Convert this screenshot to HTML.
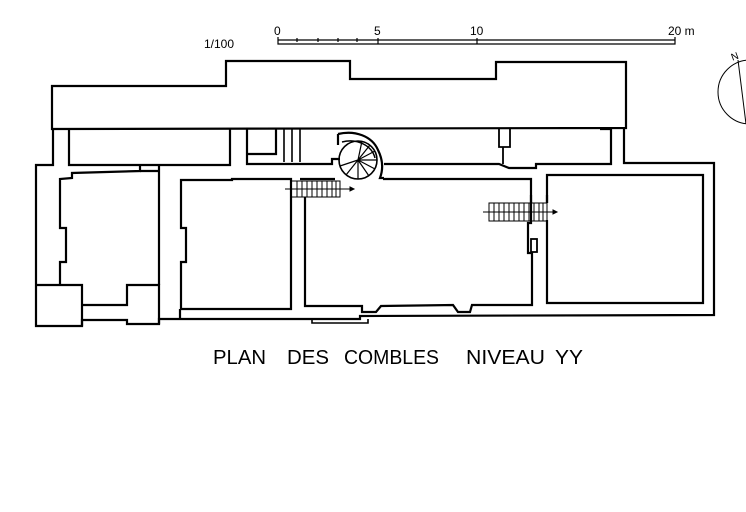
<!DOCTYPE html>
<html><head><meta charset="utf-8"><style>
html,body{margin:0;padding:0;background:#fff;width:746px;height:512px;overflow:hidden}
svg{display:block}
text{font-family:"Liberation Sans",sans-serif;fill:#000}
</style></head><body>
<svg width="746" height="512" viewBox="0 0 746 512" xmlns="http://www.w3.org/2000/svg">
<g fill="none" stroke="#000" stroke-width="2.2" stroke-linejoin="miter">
<path d="M52,129 L52,86 L226,86 L226,61 L350,61 L350,79 L496,79 L496,62 L626,62 L626,128 Z" fill="#fff"/>
<path d="M53,129 L53,165 L36,165 L36,326 L82,326 L82,320 L127,320 L127,324 L159,324 L159,319 L360,319 L360,316 L714,315 L714,163 L624,163 L624,129"/>
<path d="M69,129 L69,165 L230,165 L230,129"/>
<path d="M247,129 L247,164 L300,164 L332,164 L332,159 L340,159"/>
<path d="M247,154 L276,154 L276,129"/>
<path d="M284,129 L284,162 M292,129 L292,162 M300,129 L300,162" stroke-width="1.6"/>
<path d="M338,134 L338,145 M338,134 C355,130 372,136 378,150 C383,160 383,170 380,178 L384,178" />
<path d="M342,142 C358,138 372,146 375,158" stroke-width="1.5"/>
<circle cx="358" cy="160" r="19" stroke-width="1.6"/>
<g stroke-width="1.2">
<line x1="358" y1="160" x2="377" y2="160"/><line x1="358" y1="160" x2="375" y2="151"/>
<line x1="358" y1="160" x2="370" y2="145"/><line x1="358" y1="160" x2="362" y2="141"/>
<line x1="358" y1="160" x2="375" y2="169"/><line x1="358" y1="160" x2="369" y2="176"/>
<line x1="358" y1="160" x2="358" y2="179"/><line x1="358" y1="160" x2="346" y2="175"/>
<line x1="358" y1="160" x2="340" y2="166"/>
</g>
<path d="M384,164 L499,164 L509,168 L536,168 L536,164 L611,164 L611,129 L600,129"/>
<path d="M499,129 L499,147 L510,147 L510,129 M503,147 L503,164" stroke-width="1.8"/>
<path d="M140,165 L140,171 L72,173 L72,178 L60,179 L60,228 L66,228 L66,262 L60,262 L60,285"/>
<path d="M140,171 L159,171"/>
<path d="M159,165 L159,285"/>
<path d="M36,285 L82,285 L82,326"/>
<path d="M82,305 L127,305 L127,285 L159,285 L159,324"/>
<path d="M180,319 L180,309 M181,309 L181,262 L186,262 L186,228 L181,228 L181,180 L232,180 L232,179 L291,179 L291,309 Z"/>
<path d="M305,197 L305,306 L362,306 L362,312 L376,312 L381,306 L453,305 L458,312 L470,312 L472,305 L532,305 L532,253 L528,253 L528,223 L531,223 L531,179 L383,179"/>
<path d="M335,179 L300,179"/>
<path d="M547,220 L547,303 L703,303 L703,175 L547,175 L547,203"/>
<path d="M531,195 L531,203 M547,195 L547,203"/>
<rect x="531" y="239" width="6" height="13" stroke-width="1.8"/>
<path d="M312,319 L312,323 L368,323 L368,319" stroke-width="1.6"/>
</g>
<g stroke="#000" stroke-width="1" fill="none">
<path d="M291,181 L340,181 L340,197 L291,197"/>
<path d="M297,181V197M302,181V197M307,181V197M312,181V197M317,181V197M322,181V197M327,181V197M332,181V197M336,181V197"/>
<line x1="285" y1="189" x2="350" y2="189"/><path d="M350,187 L354,189 L350,191Z" fill="#000"/>
<path d="M489,203 L547,203 L547,221 L489,221 Z"/>
<path d="M494,203V221M499,203V221M504,203V221M509,203V221M514,203V221M519,203V221M524,203V221M529,203V221M534,203V221M539,203V221M543,203V221"/>
<line x1="483" y1="212" x2="553" y2="212"/><path d="M553,210 L557,212 L553,214Z" fill="#000"/>
</g>
<g stroke="#000" stroke-width="1.2" fill="none">
<path d="M278,37 L278,44 L675,44 L675,37"/>
<line x1="278" y1="40" x2="675" y2="40"/>
<path d="M297,38V42M318,38V42M338,38V42M357,38V42M378,38V44M477,38V44"/>
</g>
<text x="204" y="48" font-size="12">1/100</text>
<text x="274" y="35" font-size="12">0</text>
<text x="374" y="35" font-size="12">5</text>
<text x="470" y="35" font-size="12">10</text>
<text x="668" y="35" font-size="12">20 m</text>
<circle cx="750" cy="92" r="32" fill="none" stroke="#000" stroke-width="1"/>
<line x1="738" y1="60" x2="746" y2="124" stroke="#000" stroke-width="1"/>
<text x="731" y="60" font-size="10" transform="rotate(-20 734 56)">N</text>
<g font-size="20">
<text x="213" y="364" textLength="53" lengthAdjust="spacingAndGlyphs">PLAN</text>
<text x="287" y="364" textLength="42" lengthAdjust="spacingAndGlyphs">DES</text>
<text x="344" y="364" textLength="95" lengthAdjust="spacingAndGlyphs">COMBLES</text>
<text x="466" y="364" textLength="79" lengthAdjust="spacingAndGlyphs">NIVEAU</text>
<text x="555" y="364" textLength="28" lengthAdjust="spacingAndGlyphs">YY</text>
</g>
</svg>
</body></html>
